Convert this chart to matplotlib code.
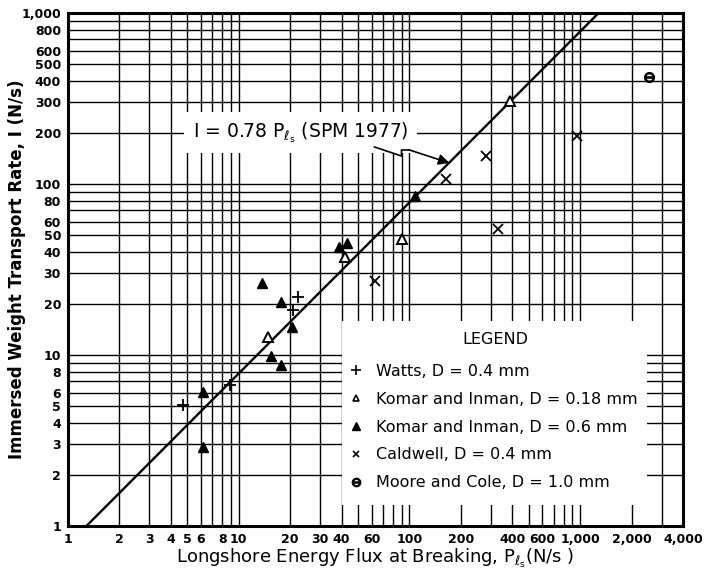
import numpy as np
import matplotlib
matplotlib.use('Agg')
import matplotlib.pyplot as plt
from matplotlib.patches import Rectangle
from matplotlib.lines import Line2D

# data (N/s)
watts_p = [4.7, 8.9, 20.7, 22.1]
watts_i = [5.1, 6.7, 18.3, 21.8]
komar_fine_p = [14.8, 41.7, 91.0, 390.0]
komar_fine_i = [12.7, 37.4, 47.7, 306.0]
komar_coarse_p = [6.2, 6.2, 13.6, 17.8, 20.4, 15.4, 17.8, 38.4, 42.8, 108.0]
komar_coarse_i = [6.1, 2.9, 26.4, 20.4, 14.6, 9.9, 8.7, 42.8, 45.2, 85.0]
caldwell_p = [62.4, 163.0, 282.0, 331.0, 960.0]
caldwell_i = [27.1, 107.0, 146.0, 54.6, 191.0]
moore_p = [2530.0]
moore_i = [420.0]
K = 0.78  # I = K * P (SPM 1977)

x_labels = {1: '1', 2: '2', 3: '3', 4: '4', 5: '5', 6: '6', 8: '8', 10: '10',
            20: '20', 30: '30', 40: '40', 60: '60', 100: '100', 200: '200',
            400: '400', 600: '600', 1000: '1,000', 2000: '2,000', 4000: '4,000'}
y_labels = {1: '1', 2: '2', 3: '3', 4: '4', 5: '5', 6: '6', 8: '8', 10: '10',
            20: '20', 30: '30', 40: '40', 50: '50', 60: '60', 80: '80',
            100: '100', 200: '200', 300: '300', 400: '400', 500: '500',
            600: '600', 800: '800', 1000: '1,000'}

XMIN, XMAX = 1, 4000
YMIN, YMAX = 1, 1000

fig = plt.figure(figsize=(7.08, 5.74), dpi=100)
ax = fig.add_axes([68 / 708, 48 / 574, 615 / 708, 513 / 574])
ax.set_xscale('log')
ax.set_yscale('log')
ax.set_xlim(XMIN, XMAX)
ax.set_ylim(YMIN, YMAX)

# log graph paper: a line at every 1..9 x decade
xgrid = [m * 10 ** d for d in range(4) for m in range(1, 10) if m * 10 ** d <= XMAX]
ygrid = [m * 10 ** d for d in range(4) for m in range(1, 10) if m * 10 ** d <= YMAX]
ax.set_xticks(xgrid)
ax.set_xticklabels([x_labels.get(v, '') for v in xgrid])
ax.set_yticks(ygrid)
ax.set_yticklabels([y_labels.get(v, '') for v in ygrid])
ax.minorticks_off()
ax.tick_params(length=0, pad=5)
for t in ax.get_xticklabels() + ax.get_yticklabels():
    t.set_fontsize(9)
    t.set_fontweight('bold')
ax.set_axisbelow(True)
ax.grid(True, color='black', linewidth=1.0)
for s in ax.spines.values():
    s.set_linewidth(2.2)
    s.set_zorder(5)

# blank patch on the paper where the legend sits
ax.add_patch(Rectangle((40, 1.33), 2465 - 40, 15.8 - 1.33, facecolor='white',
                       edgecolor='none', zorder=1.5))

p_line = np.array([XMIN, XMAX])
ax.plot(p_line, K * p_line, color='black', linewidth=1.7, zorder=2)

mk = dict(linestyle='none', color='black', zorder=3)
ax.plot(watts_p, watts_i, marker='+', markersize=8, markeredgewidth=1.3, **mk)
ax.plot(komar_fine_p, komar_fine_i, marker='^', markersize=6.5,
        markerfacecolor='white', markeredgewidth=1.4, **mk)
ax.plot(komar_coarse_p, komar_coarse_i, marker='^', markersize=7, **mk)
ax.plot(caldwell_p, caldwell_i, marker='x', markersize=6.5, markeredgewidth=1.3, **mk)
ax.plot(moore_p, moore_i, marker='$\\ominus$', markersize=7, **mk)

# annotation with its kinked leader
ax.text(23.0, 200, 'I = 0.78 P$_{\\ell_\\mathrm{s}}$ (SPM 1977)',
        fontsize=13.5, ha='center', va='center', zorder=4,
        bbox=dict(boxstyle='square,pad=0.45', facecolor='white', edgecolor='none'))
ax.plot([62.4, 89.8, 89.8, 100.0], [164.6, 145.8, 158.1, 158.1],
        color='black', linewidth=1.2, zorder=4.5)
ax.annotate('', xy=(171.4, 132.7), xytext=(100.0, 158.1),
            arrowprops=dict(arrowstyle='-|>', color='black', lw=1.2,
                            mutation_scale=16, shrinkA=0, shrinkB=0),
            zorder=4.5)

handles = [
    Line2D([], [], marker='+', markersize=7, markeredgewidth=1.2, **mk),
    Line2D([], [], marker='^', markersize=5, markerfacecolor='white',
           markeredgewidth=1.2, **mk),
    Line2D([], [], marker='^', markersize=5.5, **mk),
    Line2D([], [], marker='x', markersize=5, markeredgewidth=1.2, **mk),
    Line2D([], [], marker='$\\ominus$', markersize=6, **mk),
]
labels = ['Watts, D = 0.4 mm', 'Komar and Inman, D = 0.18 mm',
          'Komar and Inman, D = 0.6 mm', 'Caldwell, D = 0.4 mm',
          'Moore and Cole, D = 1.0 mm']
leg = ax.legend(handles, labels, loc='upper left',
                bbox_to_anchor=((350 - 68) / 615, (526 - 364) / 513),
                frameon=False, fontsize=11.5, handlelength=0.8,
                handletextpad=0.8, labelspacing=0.8, borderpad=0,
                borderaxespad=0)
leg.set_zorder(6)
ax.text((495 - 68) / 615, (526 - 340) / 513, 'LEGEND', transform=ax.transAxes,
        fontsize=11.5, ha='center', va='center', zorder=6)

ax.set_xlabel('Longshore Energy Flux at Breaking, P$_{\\ell_\\mathrm{s}}$(N/s )',
              fontsize=13, labelpad=1)
ax.set_ylabel('Immersed Weight Transport Rate, I (N/s)', fontsize=12,
              fontweight='bold')
ax.yaxis.set_label_coords(-(68 - 26) / 615, 0.5)

plt.savefig('out.png', dpi=100)
plt.close()
